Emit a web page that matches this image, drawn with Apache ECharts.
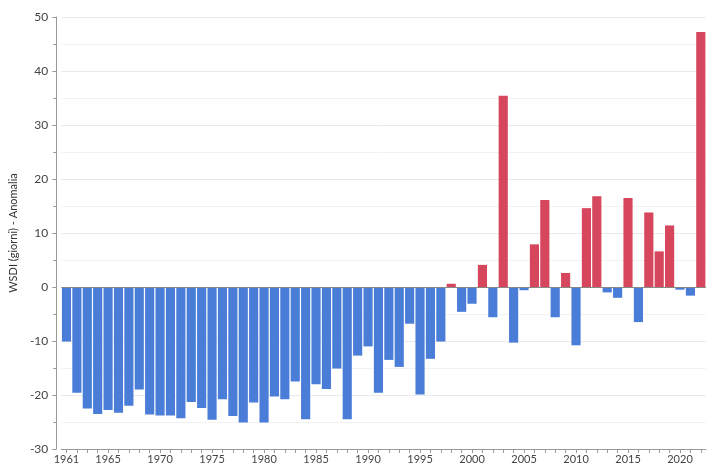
<!DOCTYPE html>
<html>
<head>
<meta charset="utf-8">
<script src="https://cdn.jsdelivr.net/npm/echarts@6/dist/echarts.min.js"></script>
<style>
  html, body { margin: 0; padding: 0; background: #fff; }
  #chart { width: 707px; height: 465px; }
</style>
</head>
<body>
<div id="chart"></div>
<script>
// anni 1961-2022
var years = [];
for (var y = 1961; y <= 2022; y++) years.push(String(y));

// anomalia WSDI (giorni)
var wsdi = [
  -10.1, -19.6, -22.5, -23.5, -22.8, -23.3, -22.0, -19.0, -23.6, -23.8,
  -23.8, -24.3, -21.3, -22.4, -24.6, -20.8, -23.9, -25.1, -21.4, -25.1,
  -20.3, -20.8, -17.5, -24.5, -18.0, -18.9, -15.1, -24.5, -12.7, -11.0,
  -19.6, -13.5, -14.8, -6.8, -19.9, -13.3, -10.1, 0.6, -4.6, -3.1,
  4.1, -5.6, 35.4, -10.3, -0.6, 7.9, 16.1, -5.6, 2.6, -10.8,
  14.6, 16.8, -1.0, -2.0, 16.5, -6.5, 13.8, 6.6, 11.4, -0.5,
  -1.6, 47.2
];

var chart = echarts.init(document.getElementById('chart'));

chart.setOption({
  animation: false,
  grid: { left: 57, right: 1, top: 17, bottom: 16, containLabel: false },
  xAxis: {
    type: 'category',
    data: years,
    position: 'bottom',
    axisLine: { onZero: false, lineStyle: { color: '#999' } },
    axisTick: {
      show: true,
      interval: 0,
      alignWithLabel: true,
      length: 4,
      lineStyle: { color: '#999' }
    },
    axisLabel: {
      interval: function (idx, val) { return idx === 0 || Number(val) % 5 === 0; },
      color: '#444',
      fontSize: 11,
      fontFamily: 'Lato',
      margin: 5
    }
  },
  yAxis: {
    type: 'value',
    min: -30,
    max: 50,
    interval: 10,
    offset: 5,
    name: 'WSDI (giorni) - Anomalia',
    nameLocation: 'middle',
    nameGap: 33,
    nameTextStyle: { color: '#333', fontSize: 11, fontFamily: 'Lato' },
    axisLine: { show: true, lineStyle: { color: '#999' } },
    axisTick: { show: true, length: 4, lineStyle: { color: '#999' } },
    minorTick: { show: true, splitNumber: 2, length: 3, lineStyle: { color: '#999' } },
    axisLabel: { color: '#444', fontSize: 12, fontFamily: 'Lato', margin: 8 },
    splitLine: { show: true, lineStyle: { color: '#eaeaea' } },
    minorSplitLine: { show: true, lineStyle: { color: '#f2f2f2' } }
  },
  series: [{
    type: 'bar',
    data: wsdi,
    barCategoryGap: '12%',
    itemStyle: {
      color: function (p) { return p.value >= 0 ? '#d6465c' : '#4a7dd8'; }
    },
    markLine: {
      silent: true,
      symbol: 'none',
      label: { show: false },
      lineStyle: { color: '#888', type: 'solid', width: 1 },
      data: [{ yAxis: 0 }]
    }
  }]
});
</script>
</body>
</html>
